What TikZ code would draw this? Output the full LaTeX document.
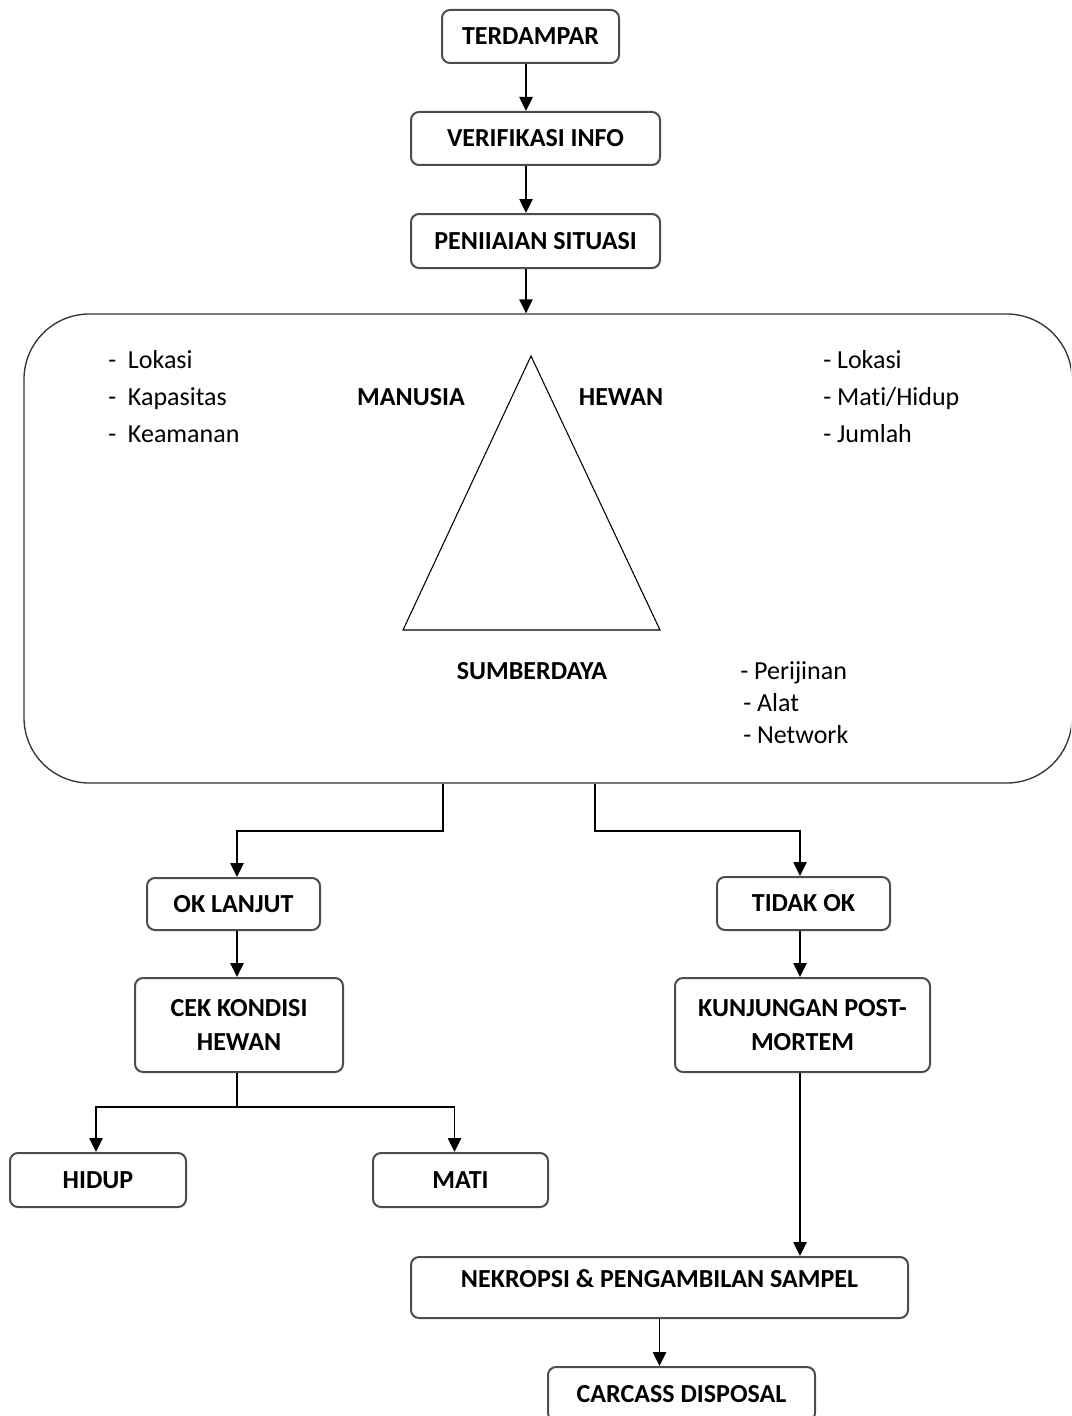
\documentclass[tikz,border=0pt]{standalone}
\usepackage{fontspec}
\setmainfont{Carlito}[Ligatures=NoCommon]
\usetikzlibrary{arrows.meta}

\newcommand{\px}{0.75pt}

\begin{document}
\begin{tikzpicture}[
    x=0.75pt, y=-0.75pt,
    font=\fontsize{19.5}{25.5}\selectfont,
    box/.style={draw=black!70, line width=1.5pt, rounded corners=6pt, align=center, inner sep=0pt, font=\fontsize{19.5}{25.5}\selectfont\bfseries},
    panel/.style={draw=black!80, line width=1pt, rounded corners=49pt, inner sep=0pt},
    arrow/.style={-{Triangle[length=10.5pt, width=10pt]}, line width=1.1pt},
    line/.style={line width=1.1pt},
    title/.style={font=\fontsize{19.5}{25.5}\selectfont\bfseries},
    item/.style={anchor=west, inner sep=0pt, text height=0.7em, text depth=0.2em}
  ]

  \useasboundingbox (0,0) rectangle (1071,1416);
  \clip (0,0) rectangle (1071,1416);

  % Top boxes
  \node[box, minimum width=177*\px, minimum height=53*\px] (terdampar) at (530.5,36.5) {TERDAMPAR};
  \node[box, minimum width=249*\px, minimum height=53*\px] (verifikasi) at (535.5,138.5) {VERIFIKASI INFO};
  \node[box, minimum width=249*\px, minimum height=54*\px] (penilaian) at (535.5,241) {PENIIAIAN SITUASI};

  % Assessment panel
  \node[panel, minimum width=1048*\px, minimum height=469*\px] (panel) at (548,548.5) {};

  % Triangle
  \coordinate (puncak) at (531,356);
  \coordinate (kiriBawah) at (403,630);
  \coordinate (kananBawah) at (660,630);
  \draw[line width=0.8pt] (puncak) -- (kananBawah) -- (kiriBawah) -- cycle;

  \node[title] (manusia) at (411,397) {MANUSIA};
  \node[title] (hewan) at (621,397) {HEWAN};
  \node[title] (sumberdaya) at (532,671) {SUMBERDAYA};

  % Lists
  \foreach \teks [count=\i] in {Lokasi, Kapasitas, Keamanan}
    \node[item] (kiri\i) at (108,{328+37*\i}) {-~~\teks};
  \foreach \teks [count=\i] in {Lokasi, Mati/Hidup, Jumlah}
    \node[item] (kanan\i) at (823,{328+37*\i}) {- \teks};
  \foreach \x/\y/\teks [count=\i] in {740/676/Perijinan, 743/708/Alat, 743/740/Network}
    \node[item] (sumber\i) at (\x,\y) {- \teks};

  % Lower boxes
  \node[box, minimum width=173*\px, minimum height=52*\px] (oklanjut) at (233.5,904) {OK LANJUT};
  \node[box, minimum width=208*\px, minimum height=94*\px] (cek) at (239,1025) {CEK KONDISI\\HEWAN};
  \node[box, minimum width=176*\px, minimum height=54*\px] (hidup) at (98,1180) {HIDUP};
  \node[box, minimum width=175*\px, minimum height=54*\px] (mati) at (460.5,1180) {MATI};
  \node[box, minimum width=173*\px, minimum height=53*\px] (tidakok) at (803.5,903.5) {TIDAK OK};
  \node[box, minimum width=255*\px, minimum height=94*\px] (kunjungan) at (802.5,1025) {KUNJUNGAN POST-\\MORTEM};
  \node[box, minimum width=497*\px, minimum height=61*\px, text depth=13.5pt] (nekropsi) at (659.5,1287.5) {NEKROPSI \& PENGAMBILAN SAMPEL};
  \node[box, minimum width=267*\px, minimum height=54*\px] (carcass) at (681.5,1394) {CARCASS DISPOSAL};

  % Connectors
  \coordinate (spine) at (526,0);
  \coordinate (kolomKiri) at (237,0);
  \coordinate (kolomKanan) at (800,0);
  \coordinate (belokKiri) at (443,831);
  \coordinate (belokKanan) at (595,831);
  \coordinate (cabang) at (237,1107);

  \draw[arrow] (terdampar.south -| spine) -- (verifikasi.north -| spine);
  \draw[arrow] (verifikasi.south -| spine) -- (penilaian.north -| spine);
  \draw[arrow] (penilaian.south -| spine) -- (panel.north -| spine);

  \draw[arrow] (panel.south -| belokKiri) -- (belokKiri) -| (oklanjut.north -| kolomKiri);
  \draw[arrow] (panel.south -| belokKanan) -- (belokKanan) -| (tidakok.north -| kolomKanan);

  \draw[arrow] (oklanjut.south -| kolomKiri) -- (cek.north -| kolomKiri);
  \draw[line] (cek.south -| cabang) -- (cabang);
  \draw[arrow] (cabang) -| ([xshift=-1.5pt]hidup.north);
  \draw[arrow] (cabang) -| ([xshift=-4.5pt]mati.north);

  \draw[arrow] (tidakok.south -| kolomKanan) -- (kunjungan.north -| kolomKanan);
  \draw[arrow] (kunjungan.south -| kolomKanan) -- (nekropsi.north -| kolomKanan);
  \draw[arrow] (nekropsi.south) -- (nekropsi.south |- carcass.north);

\end{tikzpicture}
\end{document}
